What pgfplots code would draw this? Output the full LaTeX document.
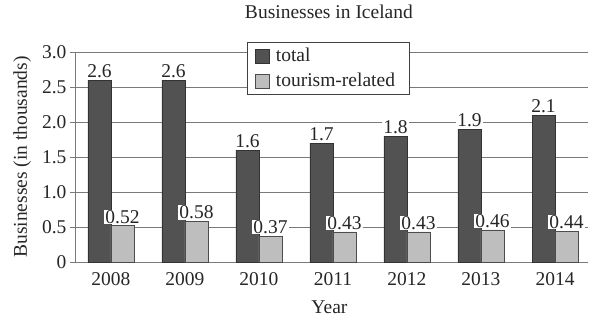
\documentclass[border=0pt]{standalone}
\usepackage{fontspec}
\setmainfont{Liberation Serif}
\usepackage{pgfplots}
\pgfplotsset{compat=1.18}
\definecolor{darkbar}{HTML}{525252}
\definecolor{lightbar}{HTML}{BEBEBE}
\definecolor{gridc}{HTML}{7A7A7A}
\newcommand\ff{\fontsize{19.5bp}{22bp}\selectfont}
\begin{document}
\begin{tikzpicture}[x=1bp,y=1bp]
\path[use as bounding box] (0,0) rectangle (600,320);
\begin{axis}[
  at={(75bp,58bp)}, anchor=south west,
  scale only axis, width=513bp, height=210bp,
  ymin=0, ymax=3, xmin=-0.486, xmax=6.446,
  ybar=0pt, bar width=23bp,
  axis x line*=bottom, axis y line*=left,
  axis line style={-, gridc, line width=0.9bp},
  ytick={0,0.5,1,1.5,2,2.5,3},
  yticklabels={0,0.5,1.0,1.5,2.0,2.5,3.0},
  xtick={0,1,2,3,4,5,6},
  xticklabels={2008,2009,2010,2011,2012,2013,2014},
  x tick style={draw=none},
  y tick style={gridc, line width=0.9bp},
  tick align=outside, major tick length=5bp, ytick pos=left,
  ymajorgrids, grid style={gridc, line width=0.9bp},
  /pgf/number format/assume math mode=true,
  tick label style={font=\ff, text=black!85},
  xticklabel style={yshift=-2bp},
  title={Businesses in Iceland},
  title style={font=\ff, text=black!85, at={(axis description cs:0.495,1.162)}, anchor=center},
  xlabel={Year},
  xlabel style={font=\ff, text=black!85, at={(axis description cs:0.496,-0.214)}, anchor=center},
  ylabel={Businesses (in thousands)},
  ylabel style={font=\ff, text=black!85, at={(axis description cs:-0.103,0.5)}, anchor=center},
  nodes near coords,
  every node near coord/.append style={font=\ff, text=black!85, fill=white, inner xsep=1bp, inner ysep=0.5bp, anchor=south, yshift=1.5bp},
  legend style={at={(axis description cs:0.335,1.048)}, anchor=north west, draw=black!75, line width=0.8bp, fill=white, font=\ff, text=black!85, inner xsep=8bp, inner ysep=4bp, row sep=6bp,
    nodes={inner xsep=6bp}},
  legend cell align=left,
  legend image code/.code={\draw[#1, line width=0.6bp] (0bp,-7bp) rectangle (14bp,7bp);},
]
\addplot[fill=darkbar, draw=black!80, line width=0.6bp] coordinates {(0,2.6) (1,2.6) (2,1.6) (3,1.7) (4,1.8) (5,1.9) (6,2.1)};
\addplot[fill=lightbar, draw=black!70, line width=0.6bp] coordinates {(0,0.52) (1,0.58) (2,0.37) (3,0.43) (4,0.43) (5,0.46) (6,0.44)};
\legend{total, tourism-related}
\end{axis}
\end{tikzpicture}
\end{document}
